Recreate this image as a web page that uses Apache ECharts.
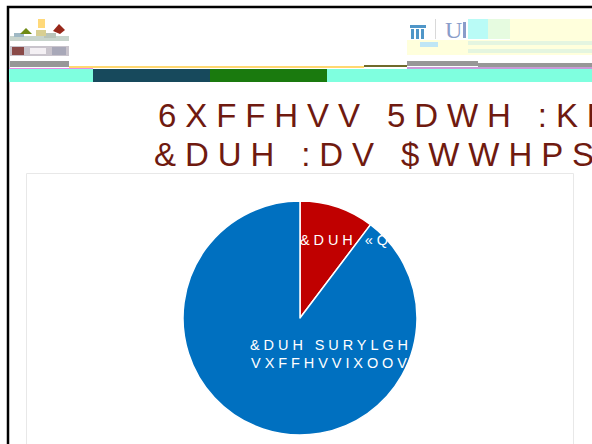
<!DOCTYPE html>
<html><head><meta charset="utf-8">
<style>
html,body{margin:0;padding:0;background:#fff;overflow:hidden}
#c{width:592px;height:444px}
#c svg text{letter-spacing:.27em}
</style>
<script src="https://cdn.jsdelivr.net/npm/echarts@6/dist/echarts.min.js"></script>
</head><body><div id="c"></div>
<script>
var titleLines = ['6XFFHVV 5DWH :KHQ', '&DUH :DV $WWHPSWHG'];
var categories = ['&DUH «QRZ', '&DUH SURYLGH\nVXFFHVVIXOOV'];
var values = [10.3, 89.7];
var colors = ['#c00000', '#0070c0'];
var labelAnchors = [[300, 240, 'left'], [331, 354, 'center']];
var bands = [[9,69,84,'#7fffdf'],[93,69,117,'#17495c'],[210,69,117,'#1a7a0e'],[327,69,265,'#7fffdf']];
var strips = [[10,61,59,6,'#979797'],[69,66,295,2,'#ffd870'],[9,68,84,1,'#e58be8'],[364,65,43,2,'#6f6a2a'],
  [407,61,71,5,'#979797'],[478,63,114,4,'#979797'],[407,67,185,2,'#c89ad8'],
  [407,40,185,15,'#ffffdc'],[510,19,82,21,'#ffffdc'],[468,19,20,20,'#b9fbf6'],[488,19,22,20,'#e6fbe0'],
  [468,41,124,4,'#e4f5e0'],[468,49,124,4,'#e4f5e0'],[420,42,18,5,'#bfe6f5'],
  [10,36,59,5,'#c8d4cc'],[14,33,10,4,'#9fb8c4'],[44,33,12,5,'#b8c4ba'],[10,46,59,10,'#c9c4cc'],
  [12,47,12,8,'#8a4a48'],[30,48,16,6,'#f4f0f4'],[52,47,14,8,'#a8a8b8'],
  [38,19,7,9,'#ffd97a'],[36,30,10,6,'#d8cf92'],
  [410,25,16,3,'#4f96c8'],[411,29,3,10,'#4f96c8'],[416,29,3,10,'#4f96c8'],[421,29,3,10,'#4f96c8'],
  [435,19,1,20,'#d9d9d9'],[463,22,3,16,'#8a9dca']];

var graphics = [];
graphics.push({type:'rect',silent:true,shape:{x:8,y:7,width:590,height:445},style:{fill:'#fff',stroke:'#000',lineWidth:2.5}});
graphics.push({type:'rect',silent:true,shape:{x:26.5,y:173.5,width:547,height:290},style:{fill:'#fff',stroke:'#e8e8e8',lineWidth:1}});
bands.forEach(function(b){graphics.push({type:'rect',silent:true,shape:{x:b[0],y:b[1],width:b[2],height:13},style:{fill:b[3]}});});
strips.forEach(function(s){graphics.push({type:'rect',silent:true,shape:{x:s[0],y:s[1],width:s[2],height:s[3]},style:{fill:s[4]}});});
graphics.push({type:'polygon',silent:true,shape:{points:[[20,34],[26,28],[32,34]]},style:{fill:'#6f8a12'}});
graphics.push({type:'polygon',silent:true,shape:{points:[[53,31],[59,24],[65,30],[60,34]]},style:{fill:'#98281a'}});
graphics.push({type:'text',silent:true,x:445,y:18,style:{text:'U',font:'24px "Liberation Serif"',fill:'#8a9dca'}});

var chart = echarts.init(document.getElementById('c'), null, {renderer:'svg', width:592, height:444});
chart.setOption({
  animation:false,
  backgroundColor:'#fff',
  graphic:graphics,
  title:[
    {text:titleLines[0],left:158,top:99,padding:0,textStyle:{fontFamily:'Liberation Sans',fontSize:33,fontWeight:'normal',color:'#6f1a10'}},
    {text:titleLines[1],left:154,top:138,padding:0,textStyle:{fontFamily:'Liberation Sans',fontSize:33,fontWeight:'normal',color:'#6f1a10'}}
  ],
  series:[{
    type:'pie',
    center:[300,318],
    radius:[0,117],
    startAngle:90,
    clockwise:true,
    itemStyle:{borderColor:'#fff',borderWidth:1.5},
    label:{show:true,position:'inside',color:'#fff',fontFamily:'Liberation Sans',fontSize:14.5,lineHeight:18},
    labelLine:{show:false},
    labelLayout:function(p){var a=labelAnchors[p.dataIndex];return {x:a[0],y:a[1],align:a[2],verticalAlign:'middle'};},
    data:categories.map(function(n,i){return {name:n,value:values[i],itemStyle:{color:colors[i]}};})
  }]
});
</script></body></html>
